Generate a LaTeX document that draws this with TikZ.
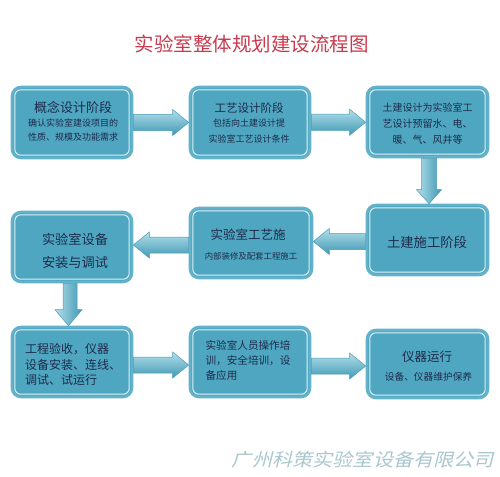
\documentclass[tikz,border=0pt]{standalone}
\usepackage{fontspec}
\newfontfamily\cjk{Noto Sans CJK SC}
\newfontfamily\cjkfoot[FakeSlant=0.25,FakeStretch=1.12]{Noto Sans CJK SC}
\usetikzlibrary{calc}
\definecolor{boxfill}{HTML}{4FA6C0}
\definecolor{boxedge}{HTML}{62B3CA}
\definecolor{boxline}{HTML}{DDF1F6}
\definecolor{textc}{HTML}{1E2B4C}
\definecolor{titlec}{HTML}{C93A4E}
\definecolor{footc}{HTML}{A9C7CF}
\definecolor{arrL}{HTML}{B3DFEA}
\definecolor{arrD}{HTML}{3F98B4}
\definecolor{arrE}{HTML}{4A9DB7}
\newcommand\fsz[2]{\fontsize{#1}{#2}\selectfont}
\begin{document}
\begin{tikzpicture}[x=1pt,y=-1pt,
  box/.style={draw=boxedge, line width=2.6pt, fill=boxfill, rounded corners=9pt,
    inner sep=0pt, minimum width=120pt, minimum height=70pt,
    path picture={\draw[boxline, line width=1pt, rounded corners=6pt]
      ([shift={(2.8pt,-2.8pt)}]path picture bounding box.north west) rectangle
      ([shift={(-2.8pt,2.8pt)}]path picture bounding box.south east);}},
  txt/.style={inner sep=0pt, text=textc},
  harrow/.style={draw=arrE, line width=0.5pt, top color=arrL, bottom color=arrD},
  varrow/.style={draw=arrE, line width=0.5pt, left color=arrL, right color=arrD}
]
\useasboundingbox[fill=white] (0,0) rectangle (500,476);

% title
\node[inner sep=0pt, text=titlec, font={\cjk\fsz{19.5}{22}}] (title) at (251.5,44) {实验室整体规划建设流程图};

% boxes
\node[box, minimum height=71pt] (b1) at (72,122.5) {};
\node[box, minimum height=71pt] (b2) at (250,122.5) {};
\node[box, minimum width=121pt] (b3) at (427.5,122) {};
\node[box, minimum width=121pt] (b4) at (427.5,240) {};
\node[box, minimum width=122pt] (b5) at (251,243) {};
\node[box] (b6) at (72,247) {};
\node[box] (b7) at (72,362) {};
\node[box] (b8) at (250,362) {};
\node[box, minimum width=121pt, minimum height=68pt] (b9) at (427.5,364) {};

% texts
\node[txt, font={\cjk\fsz{13}{16}}] (t1a) at (73,107) {概念设计阶段};
\node[txt, align=center, font={\cjk\fsz{9}{14}}] (t1b) at (73,130) {确认实验室建设项目的\\性质、规模及功能需求};

\node[txt, font={\cjk\fsz{11.5}{14}}] (t2a) at (249,108) {工艺设计阶段};
\node[txt, align=center, font={\cjk\fsz{9}{16}}] (t2b) at (249,131.5) {包括向土建设计提\\实验室工艺设计条件};

\node[txt, align=center, font={\cjk\fsz{10}{16}}] (t3) at (427.5,124) {土建设计为实验室工\\艺设计预留水、电、\\暖、气、风井等};

\node[txt, font={\cjk\fsz{13.3}{16}}] (t4) at (427,242) {土建施工阶段};

\node[txt, font={\cjk\fsz{12.5}{15}}] (t5a) at (248,235) {实验室工艺施};
\node[txt, font={\cjk\fsz{8.4}{10}}] (t5b) at (251,256) {内部装修及配套工程施工};

\node[txt, align=center, font={\cjk\fsz{13.2}{23}}] (t6) at (75,250.5) {实验室设备\\安装与调试};

\node[txt, align=left, font={\cjk\fsz{12}{15.5}}] (t7) at (73,364.5) {工程验收，仪器\\设备安装、连线、\\调试、试运行};

\node[txt, align=left, font={\cjk\fsz{10.6}{15}}] (t8) at (248,360) {实验室人员操作培\\训，安全培训，设\\备应用};

\node[txt, font={\cjk\fsz{12.5}{15}}] (t9a) at (427,357) {仪器运行};
\node[txt, font={\cjk\fsz{9.7}{12}}] (t9b) at (428.5,377) {设备、仪器维护保养};

% right arrows
\path[harrow] let \p1=(b1.east), \p2=(b2.west) in
  ({\x1},{(\y1+\y2)/2+8pt}) -- ({\x2-16pt},{(\y1+\y2)/2+8pt}) -- ({\x2-16pt},{(\y1+\y2)/2+13pt})
  -- ({\x2},{(\y1+\y2)/2}) -- ({\x2-16pt},{(\y1+\y2)/2-13pt}) -- ({\x2-16pt},{(\y1+\y2)/2-8pt})
  -- ({\x1},{(\y1+\y2)/2-8pt}) -- cycle;
\path[harrow] let \p1=(b2.east), \p2=(b3.west) in
  ({\x1},{(\y1+\y2)/2+8pt}) -- ({\x2-16pt},{(\y1+\y2)/2+8pt}) -- ({\x2-16pt},{(\y1+\y2)/2+13pt})
  -- ({\x2},{(\y1+\y2)/2}) -- ({\x2-16pt},{(\y1+\y2)/2-13pt}) -- ({\x2-16pt},{(\y1+\y2)/2-8pt})
  -- ({\x1},{(\y1+\y2)/2-8pt}) -- cycle;
\path[harrow] let \p1=(b7.east), \p2=(b8.west) in
  ({\x1},{(\y1+\y2)/2+5pt}) -- ({\x2-16pt},{(\y1+\y2)/2+5pt}) -- ({\x2-16pt},{(\y1+\y2)/2+10pt})
  -- ({\x2},{(\y1+\y2)/2-3pt}) -- ({\x2-16pt},{(\y1+\y2)/2-16pt}) -- ({\x2-16pt},{(\y1+\y2)/2-11pt})
  -- ({\x1},{(\y1+\y2)/2-11pt}) -- cycle;
\path[harrow] let \p1=(b8.east), \p2=(b9.west) in
  ({\x1},{(\y1+\y2)/2+5pt}) -- ({\x2-16pt},{(\y1+\y2)/2+5pt}) -- ({\x2-16pt},{(\y1+\y2)/2+10pt})
  -- ({\x2},{(\y1+\y2)/2-3pt}) -- ({\x2-16pt},{(\y1+\y2)/2-16pt}) -- ({\x2-16pt},{(\y1+\y2)/2-11pt})
  -- ({\x1},{(\y1+\y2)/2-11pt}) -- cycle;

% left arrows
\path[harrow] let \p1=(b4.west), \p2=(b5.east) in
  ({\x1},{(\y1+\y2)/2+8pt}) -- ({\x2+16pt},{(\y1+\y2)/2+8pt}) -- ({\x2+16pt},{(\y1+\y2)/2+13pt})
  -- ({\x2},{(\y1+\y2)/2}) -- ({\x2+16pt},{(\y1+\y2)/2-13pt}) -- ({\x2+16pt},{(\y1+\y2)/2-8pt})
  -- ({\x1},{(\y1+\y2)/2-8pt}) -- cycle;
\path[harrow] let \p1=(b5.west), \p2=(b6.east) in
  ({\x1},{(\y1+\y2)/2+8pt}) -- ({\x2+16pt},{(\y1+\y2)/2+8pt}) -- ({\x2+16pt},{(\y1+\y2)/2+13pt})
  -- ({\x2},{(\y1+\y2)/2}) -- ({\x2+16pt},{(\y1+\y2)/2-13pt}) -- ({\x2+16pt},{(\y1+\y2)/2-8pt})
  -- ({\x1},{(\y1+\y2)/2-8pt}) -- cycle;

% down arrows
\path[varrow] let \p1=(b3.south), \p2=(b4.north) in
  ({\x1-6pt},{\y1}) -- ({\x1-6pt},{\y2+14pt}) -- ({\x1-11pt},{\y2+14pt}) -- ({\x1+1.5pt},{\y2})
  -- ({\x1+14pt},{\y2+14pt}) -- ({\x1+9pt},{\y2+14pt}) -- ({\x1+9pt},{\y1}) -- cycle;
\path[varrow] let \p1=(b6.south), \p2=(b7.north) in
  ({\x1-9pt},{\y1}) -- ({\x1-9pt},{\y2+16pt}) -- ({\x1-17pt},{\y2+16pt}) -- ({\x1-3.5pt},{\y2})
  -- ({\x1+10pt},{\y2+16pt}) -- ({\x1+5pt},{\y2+16pt}) -- ({\x1+5pt},{\y1}) -- cycle;

% footer
\node[inner sep=0pt, text=footc, font={\cjkfoot\fsz{18}{20}}] (foot) at (363,460) {广州科策实验室设备有限公司};
\end{tikzpicture}
\end{document}
